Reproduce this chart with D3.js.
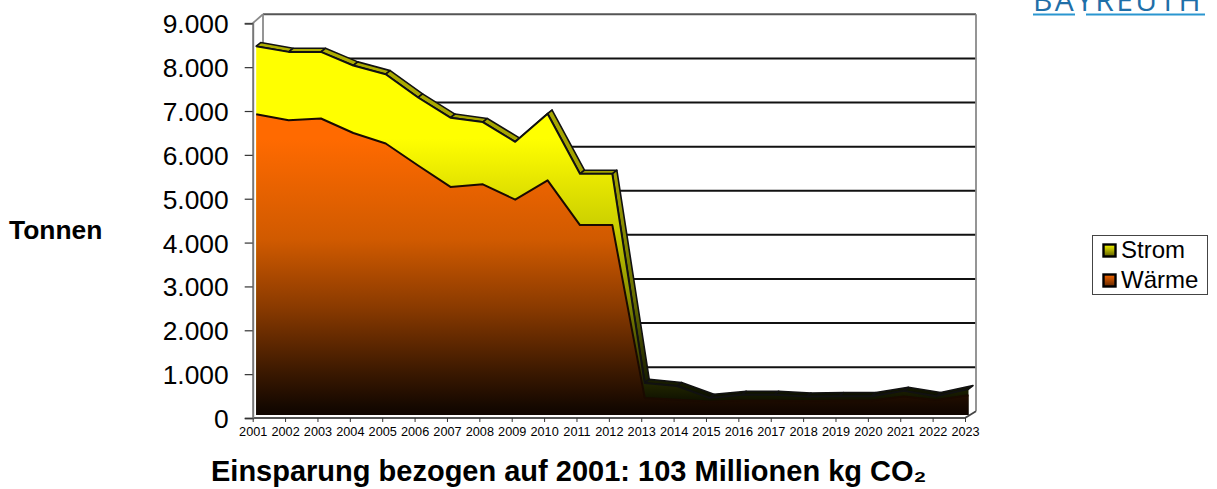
<!DOCTYPE html>
<html>
<head>
<meta charset="utf-8">
<script src="https://cdn.jsdelivr.net/npm/d3@7"></script>
<style>
body { margin: 0; background: #fff; }
text { font-family: "Liberation Sans", Arial, sans-serif; fill: #000; }
</style>
</head>
<body>
<div id="chart"></div>
<script>
const years = ['2001','2002','2003','2004','2005','2006','2007','2008','2009','2010','2011','2012','2013','2014','2015','2016','2017','2018','2019','2020','2021','2022','2023'];
// tonnes
const waerme = [6860,6720,6760,6430,6190,5690,5200,5260,4910,5350,4330,4330,390,350,310,330,330,320,330,330,420,340,450];
const stromTotal = [8410,8280,8280,7970,7770,7240,6780,6680,6230,6870,5500,5500,730,660,390,460,460,420,430,430,550,430,590];
const yTicks = [0,1000,2000,3000,4000,5000,6000,7000,8000,9000];
const legendItems = ['Strom','Wärme'];

const width = 1217;
const height = 489;

const svg = d3.select('#chart')
    .append('svg')
    .attr('width', width)
    .attr('height', height);

const x = d3.scalePoint().domain(years).range([252.7, 965]);
const y = d3.scaleLinear().domain([0, 9000]).range([418, 23.3]);
const yBack = d3.scaleLinear().domain([0, 9000]).range([411.3, 14.3]);
const xBackLeft = 263;
const xBackRight = 976;

// gradients run down the whole plot height
function addGradient(id, stops, x1, y1, x2, y2) {
    const g = svg.append('defs').append('linearGradient')
        .attr('id', id)
        .attr('gradientUnits', 'userSpaceOnUse')
        .attr('x1', x1).attr('y1', y1).attr('x2', x2).attr('y2', y2);
    stops.forEach(s => g.append('stop').attr('offset', s[0]).attr('stop-color', s[1]));
}
const yellowStops = [[0,'#ffff00'],[0.3,'#ffff00'],[0.4,'#e8e800'],[0.52,'#ccd000'],[0.7,'#8a9000'],[0.9,'#2a3000'],[1,'#000']];
const oliveStops = [[0,'#b0b000'],[0.4,'#a0a000'],[0.7,'#6a7000'],[0.9,'#1c2200'],[1,'#000']];
const orangeStops = [[0,'#ff6a00'],[0.3,'#ff6a00'],[0.557,'#d05a00'],[0.727,'#8a3a00'],[0.894,'#3a1800'],[0.98,'#150800'],[1,'#100500']];
addGradient('strom', yellowStops, 0, 20, 0, 415);
addGradient('stromTop', oliveStops, 0, 20, 0, 415);
addGradient('waerme', orangeStops, 0, 20, 0, 415);
addGradient('stromKey', [[0,'#ffff00'],[1,'#555500']], 0, 244, 0, 257);
addGradient('waermeKey', [[0,'#ff6a00'],[1,'#5a2400']], 0, 274, 0, 287);

// back wall
svg.append('g').selectAll('line')
    .data(yTicks.slice(1))
    .enter()
    .append('line')
    .attr('x1', xBackLeft)
    .attr('x2', xBackRight)
    .attr('y1', d => yBack(d))
    .attr('y2', d => yBack(d))
    .attr('stroke', d => d === 9000 ? '#555' : '#111')
    .attr('stroke-width', 2);

const frame = svg.append('g').attr('fill', 'none').attr('stroke', '#8a8a8a').attr('stroke-width', 1.8);
frame.append('line').attr('x1', xBackRight).attr('x2', xBackRight).attr('y1', yBack(9000)).attr('y2', yBack(0));
frame.append('line').attr('x1', xBackLeft).attr('x2', xBackLeft).attr('y1', yBack(9000)).attr('y2', yBack(0));
frame.append('line').attr('x1', x('2001')).attr('x2', xBackLeft).attr('y1', y(9000)).attr('y2', yBack(9000));
frame.append('line').attr('x1', x('2023')).attr('x2', xBackRight).attr('y1', y(0)).attr('y2', yBack(0)).attr('stroke', '#444');
frame.append('line').attr('x1', x('2001')).attr('x2', x('2023')).attr('y1', y(0)).attr('y2', y(0)).attr('stroke', '#555');

// area fronts sit a little inside the depth of the plot
const ox = 3.5;
const oy = -3;
const slabX = 4.5;
const slabY = -3.6;
const px = (d, i) => x(years[i]) + ox;

// top slab of Strom
const slabs = d3.range(years.length - 1).map(i => {
    const a = [px(null, i), y(stromTotal[i]) + oy];
    const b = [px(null, i + 1), y(stromTotal[i + 1]) + oy];
    return [a, b, [b[0] + slabX, b[1] + slabY], [a[0] + slabX, a[1] + slabY]];
});
svg.append('g').selectAll('path')
    .data(slabs)
    .enter()
    .append('path')
    .attr('d', d => d3.line()(d) + 'Z')
    .attr('fill', 'url(#stromTop)')
    .attr('stroke', '#111')
    .attr('stroke-width', 1.6)
    .attr('stroke-linejoin', 'round');

const stromArea = d3.area()
    .x(px)
    .y0(y(0) + oy)
    .y1(d => y(d) + oy);

const topLine = d3.line()
    .x(px)
    .y(d => y(d) + oy);

svg.append('path')
    .attr('d', stromArea(stromTotal))
    .attr('fill', 'url(#strom)');
svg.append('path')
    .attr('d', topLine(stromTotal))
    .attr('fill', 'none')
    .attr('stroke', '#111')
    .attr('stroke-width', 2)
    .attr('stroke-linejoin', 'round');

svg.append('path')
    .attr('d', stromArea(waerme))
    .attr('fill', 'url(#waerme)');
svg.append('path')
    .attr('d', topLine(waerme))
    .attr('fill', 'none')
    .attr('stroke', '#1a0a00')
    .attr('stroke-width', 2)
    .attr('stroke-linejoin', 'round');

// axes
const fmt = d3.formatLocale({ decimal: ',', thousands: '.', grouping: [3], currency: ['', ' €'] }).format(',');

const yAxis = svg.append('g')
    .attr('transform', `translate(${x('2001')},0)`)
    .call(d3.axisLeft(y).tickValues(yTicks).tickFormat(fmt).tickSize(8).tickPadding(16));
yAxis.selectAll('text').style('font-size', '26.4px').attr('dy', '0.36em');
yAxis.selectAll('line').attr('stroke', '#333').attr('stroke-width', 1.2);
yAxis.select('.domain').attr('stroke', '#777').attr('stroke-width', 2);

const xAxis = svg.append('g')
    .attr('transform', `translate(0,${y(0)})`)
    .call(d3.axisBottom(x).tickSize(4).tickPadding(5));
xAxis.selectAll('text').style('font-size', '12.7px');
xAxis.selectAll('line').attr('stroke', '#333');
xAxis.select('.domain').remove();

// titles
svg.append('text')
    .attr('x', 9)
    .attr('y', 239)
    .style('font-size', '26.4px')
    .style('font-weight', 'bold')
    .text('Tonnen');

svg.append('text')
    .attr('x', 211)
    .attr('y', 481)
    .style('font-size', '29px')
    .style('font-weight', 'bold')
    .text('Einsparung bezogen auf 2001: 103 Millionen kg CO₂');

// legend
svg.append('rect')
    .attr('x', 1092.5).attr('y', 235.5)
    .attr('width', 115).attr('height', 59)
    .attr('fill', '#fff').attr('stroke', '#444');

const keys = svg.append('g').selectAll('g')
    .data(legendItems)
    .enter()
    .append('g');
keys.append('rect')
    .attr('x', 1103.5)
    .attr('y', (d, i) => 244.5 + i * 30)
    .attr('width', 12).attr('height', 12)
    .attr('fill', (d, i) => i === 0 ? 'url(#stromKey)' : 'url(#waermeKey)')
    .attr('stroke', '#000')
    .attr('stroke-width', 2.4);
keys.append('text')
    .attr('x', 1121)
    .attr('y', (d, i) => 258 + i * 30)
    .style('font-size', '24px')
    .text(d => d);

// logo, cut off by the top edge
svg.append('text')
    .attr('x', 1033)
    .attr('y', 11)
    .style('font-family', '"Open Sans", sans-serif')
    .style('font-size', '30px')
    .style('font-weight', '500')
    .style('letter-spacing', '2.4px')
    .style('fill', '#1f6fa8')
    .text('BAYREUTH');
svg.append('line').attr('x1', 1033).attr('x2', 1075).attr('y1', 14.5).attr('y2', 14.5).attr('stroke', '#2a96d0').attr('stroke-width', 2);
svg.append('line').attr('x1', 1086).attr('x2', 1205).attr('y1', 14.5).attr('y2', 14.5).attr('stroke', '#2a96d0').attr('stroke-width', 2);
</script>
</body>
</html>
